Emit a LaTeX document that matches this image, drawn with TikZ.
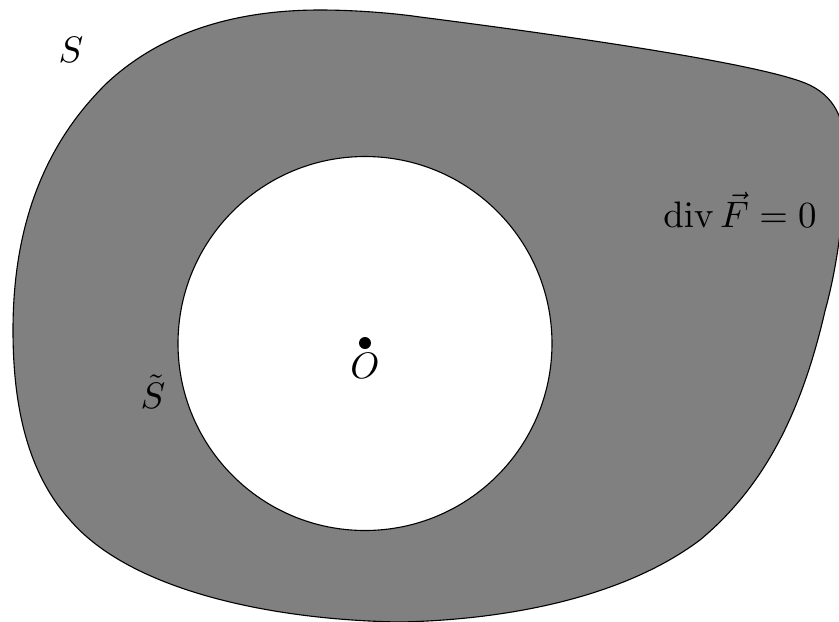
\documentclass[tikz,border=0pt]{standalone}
\begin{document}
\begin{tikzpicture}[x=0.009535cm,y=-0.009535cm,
  region/.style={fill=gray,draw=black,line width=0.3pt},
  hole/.style={fill=white,draw=black,line width=0.3pt}]
\useasboundingbox (0,0) rectangle (839,622);
\path[region] (320,10) .. controls (360,10) and (400,14) .. (420,17)
  .. controls (600,40) and (760,65) .. (805,83)
  .. controls (835,95) and (845,120) .. (845,150)
  .. controls (845,220) and (835,275) .. (825,311)
  .. controls (800,420) and (760,490) .. (700,540)
  .. controls (620,600) and (500,620) .. (400,622)
  .. controls (270,620) and (130,590) .. (70,520)
  .. controls (25,470) and (13,400) .. (13,330)
  .. controls (13,220) and (48,140) .. (108,82)
  .. controls (170,25) and (250,10) .. (320,10) -- cycle;
\path[hole] (365,343.5) circle (187);
\fill (365,343) circle (6);
\coordinate (c) at (365,343);
\node (O) at (365,366) {$O$};
\node (S) at (71,50) {$S$};
\node (St) at (153,392) {$\tilde S$};
\node (div) at (740,210) {$\mathrm{div}\,\vec F=0$};
\end{tikzpicture}
\end{document}
